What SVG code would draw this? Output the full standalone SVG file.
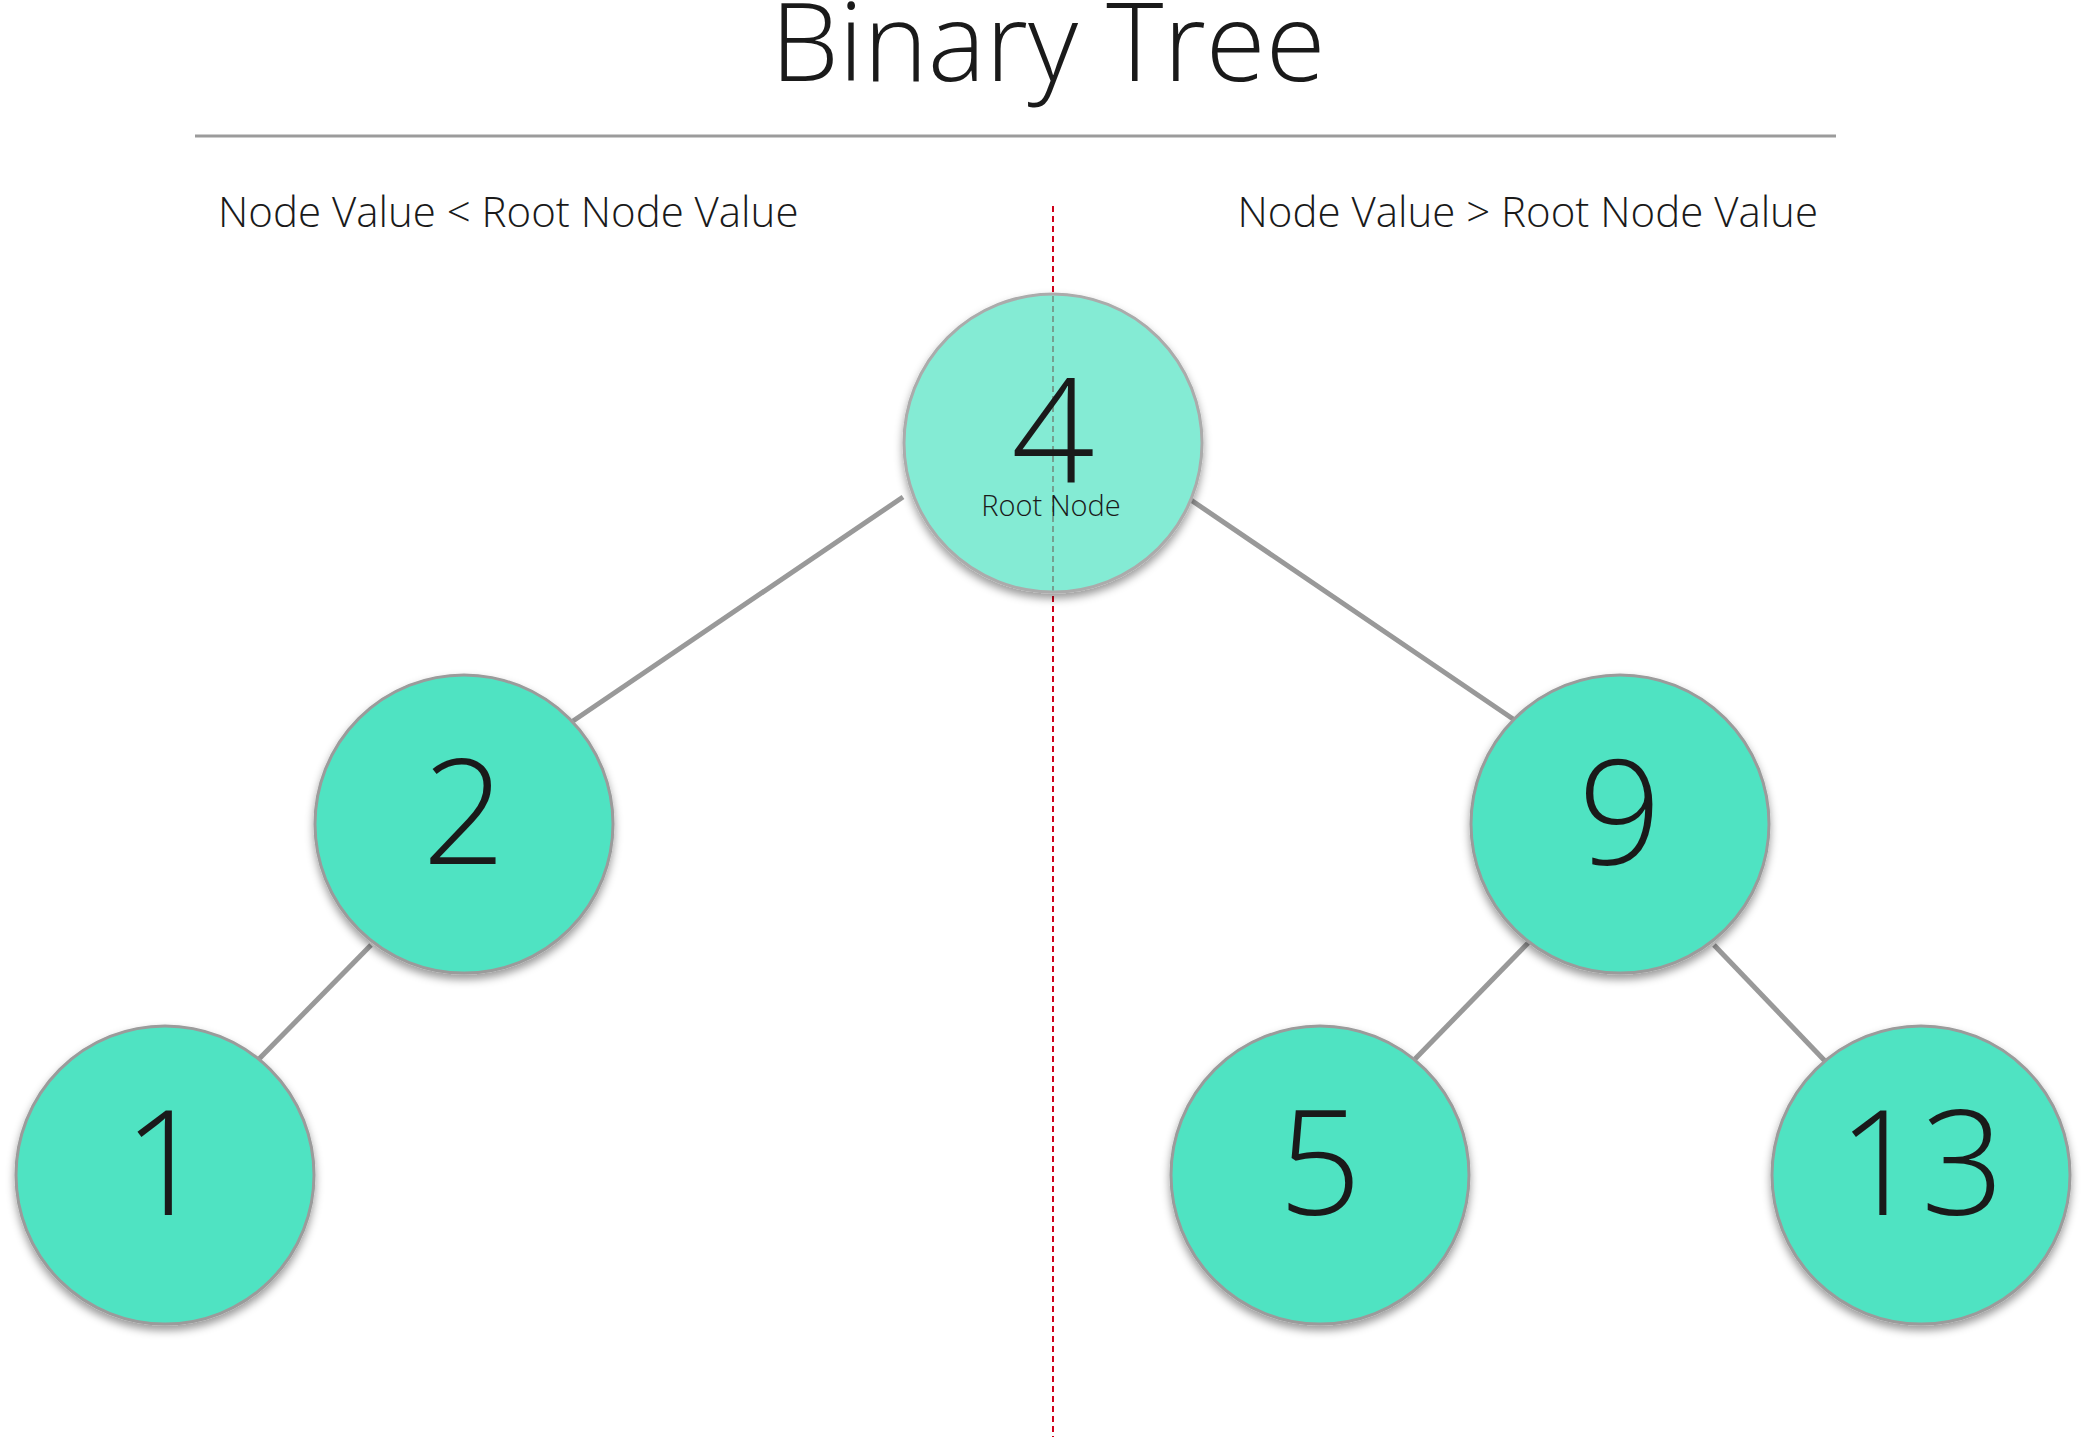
<svg xmlns="http://www.w3.org/2000/svg" width="2085" height="1437" viewBox="0 0 2085 1437">
<defs>
<filter id="shadow" x="-20%" y="-20%" width="140%" height="150%">
<feDropShadow dx="0" dy="5" stdDeviation="4" flood-color="#000" flood-opacity="0.4"/>
</filter>
<style>
text{font-family:"Open Sans","Liberation Sans",sans-serif;font-weight:300;fill:#1A1A1A}
.title{font-size:109px}
.sub{font-size:42px}
.num{font-size:146px;text-anchor:middle}
.small{font-size:29px;text-anchor:middle}
.node{fill:#50E3C2;stroke:#9B9B9B;stroke-width:3;filter:url(#shadow)}
.root{fill:#84EBD4;stroke:#ABABAB}
.edge{stroke:#999999;stroke-width:5;fill:none}
.dash{stroke-width:2;stroke-dasharray:6 4}
</style>
</defs>
<rect width="2085" height="1437" fill="#FFFFFF"/>
<text class="title" x="1048" y="81" text-anchor="middle">Binary Tree</text>
<line x1="195" y1="136" x2="1836" y2="136" stroke="#9B9B9B" stroke-width="3"/>
<text class="sub" x="218" y="227">Node Value &lt; Root Node Value</text>
<text class="sub" x="1818" y="227" text-anchor="end">Node Value &gt; Root Node Value</text>
<line id="divider" class="dash" x1="1053" y1="206" x2="1053" y2="1437" stroke="#D0021B"/>
<g id="connectors">
<line class="edge" x1="903" y1="497" x2="573" y2="721"/>
<line class="edge" x1="1188" y1="498" x2="1516" y2="721"/>
<line class="edge" x1="371" y1="945" x2="258" y2="1060"/>
<line class="edge" x1="1529" y1="942" x2="1415" y2="1059"/>
<line class="edge" x1="1714" y1="945" x2="1825" y2="1061"/>
</g>
<g id="node4">
<circle class="node root" cx="1053" cy="443" r="149"/>
<line class="dash" x1="1053" y1="206" x2="1053" y2="1437" stroke="#76A090" clip-path="url(#rootclip)"/>
<clipPath id="rootclip"><circle cx="1053" cy="443" r="147.5"/></clipPath>
<text class="num" x="1053" y="483">4</text>
<text class="small" x="1051" y="516">Root Node</text>
</g>
<g id="node2">
<circle class="node" cx="464" cy="824" r="149"/>
<text class="num" x="464" y="864">2</text>
</g>
<g id="node9">
<circle class="node" cx="1620" cy="824" r="149"/>
<text class="num" x="1620" y="864">9</text>
</g>
<g id="node1">
<circle class="node" cx="165" cy="1175" r="149"/>
<text class="num" x="165" y="1215">1</text>
</g>
<g id="node5">
<circle class="node" cx="1320" cy="1175" r="149"/>
<text class="num" x="1320" y="1215">5</text>
</g>
<g id="node13">
<circle class="node" cx="1921" cy="1175" r="149"/>
<text class="num" x="1921" y="1215">13</text>
</g>
</svg>
